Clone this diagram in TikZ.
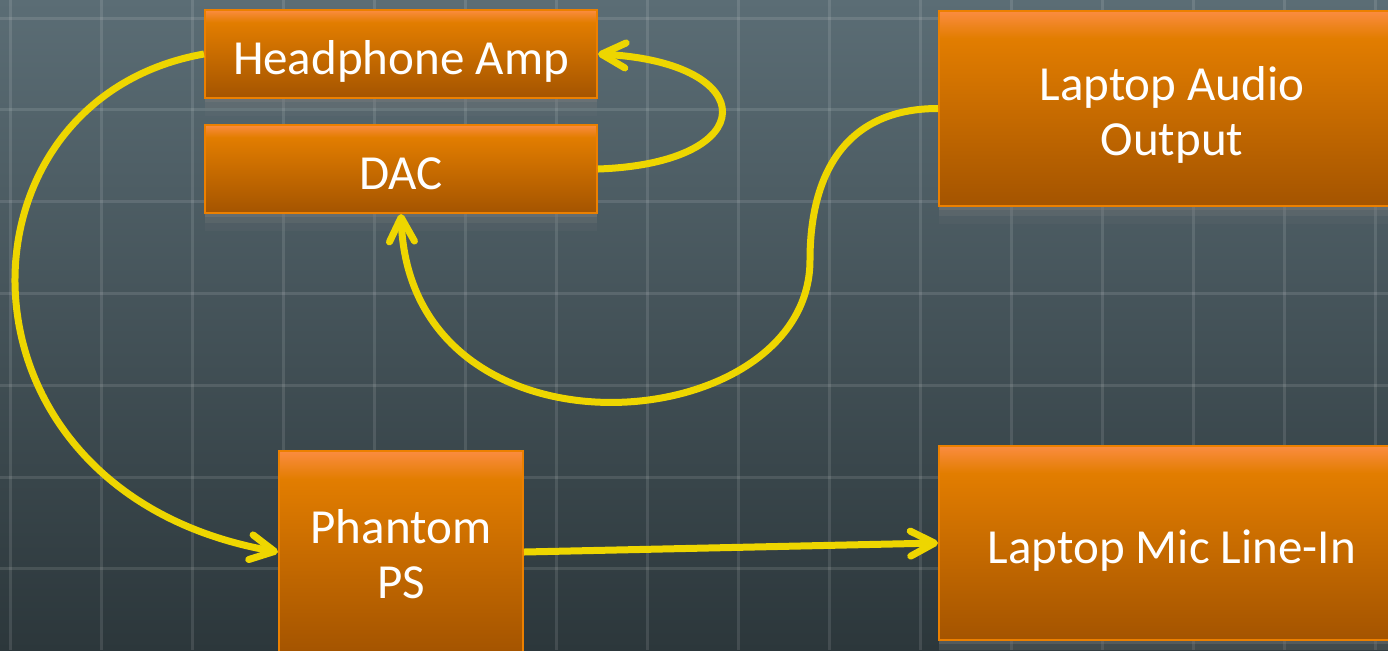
\documentclass[tikz,border=0pt]{standalone}
\usepackage{fontspec}
\setmainfont{Carlito}
\usetikzlibrary{arrows.meta, positioning, shadows}

\definecolor{bgtop}{RGB}{91,109,117}
\definecolor{bgmid}{RGB}{75,91,99}
\definecolor{bgbot}{RGB}{44,55,59}
\definecolor{boxtop}{RGB}{251,140,64}
\definecolor{boxmid}{RGB}{226,125,0}
\definecolor{boxbot}{RGB}{164,84,0}
\definecolor{boxrim}{RGB}{236,128,0}
\definecolor{wire}{RGB}{238,214,0}

\pgfdeclareverticalshading{boxfade}{100bp}{color(0bp)=(boxbot); color(25bp)=(boxbot); color(68bp)=(boxmid); color(75bp)=(boxtop); color(100bp)=(boxtop)}

\begin{document}
\begin{tikzpicture}[
            x = 1pt, y = 1pt,
            node distance = 12.5pt,
            >={Straight Barb[round, length=12pt, width=12.5pt]}
        ]

        \tikzstyle{unit}=[
            draw=boxrim,
            line width=1pt,
            shading=boxfade,
            drop shadow={shadow xshift=0pt, shadow yshift=-2pt, opacity=0.3},
            drop shadow={shadow xshift=0pt, shadow yshift=-5pt, opacity=0.2},
            drop shadow={shadow xshift=0pt, shadow yshift=-9pt, opacity=0.1},
            text=white,
            align=center,
            inner sep=0pt,
            text height=20pt,
            text depth=0pt,
            font=\fontsize{24.5}{27.5}\selectfont
        ]
        \tikzstyle{twolines}=[text height=46.5pt, text depth=0pt]
        \tikzstyle{link}=[draw=wire, line width=3.5pt, ->]

        % backdrop
        \useasboundingbox (0,0) rectangle (694,-325);
        \clip (0,0) rectangle (694,-325);
        \shade[top color=bgtop, middle color=bgmid, bottom color=bgbot] (0,0) rectangle (694,-325);
        \foreach \gx in {0,...,15}
            \draw[white, opacity=0.11, line width=1.5pt] (5+45.5*\gx,0) -- ++(0,-325);
        \foreach \gy in {0,...,7}
            \draw[white, opacity=0.11, line width=1.5pt] (0,-9-45.9*\gy) -- ++(694,0);

		\node[unit, minimum width=196pt, minimum height=44pt] (amp) at (200.5,-27) {Headphone Amp};
		\node[unit, minimum width=196pt, minimum height=44pt] (dac) [below=12.5pt of amp] {DAC};
		\node[unit, twolines, minimum width=122pt, minimum height=101pt] (pps) [below=118pt of dac] {Phantom\\PS};
		\node[unit, twolines, minimum width=233pt, minimum height=97.5pt, anchor=north west] (aout)
            at ([xshift=170pt, yshift=-0.5pt]amp.north east) {Laptop Audio\\Output};
		\node[unit, minimum width=233pt, minimum height=97pt] (micin) [below=119pt of aout] {Laptop Mic Line-In};

        \coordinate (bend) at (405,-130);

        \draw[link] (amp.west) to[out=190, in=170, out distance=132pt, in distance=172pt] (pps.west);
        \draw[link] (dac.east) to[out=2, in=-3, out distance=82.5pt, in distance=82.5pt] (amp.east);
        \draw[link] (aout.west) to[out=180, in=90, out distance=48.5pt, in distance=40pt] (bend)
            to[out=-90, in=-88, out distance=90pt, in distance=129.5pt] (dac.south);
        \draw[link] (pps.east) -- (micin.west);
    \end{tikzpicture}
\end{document}
